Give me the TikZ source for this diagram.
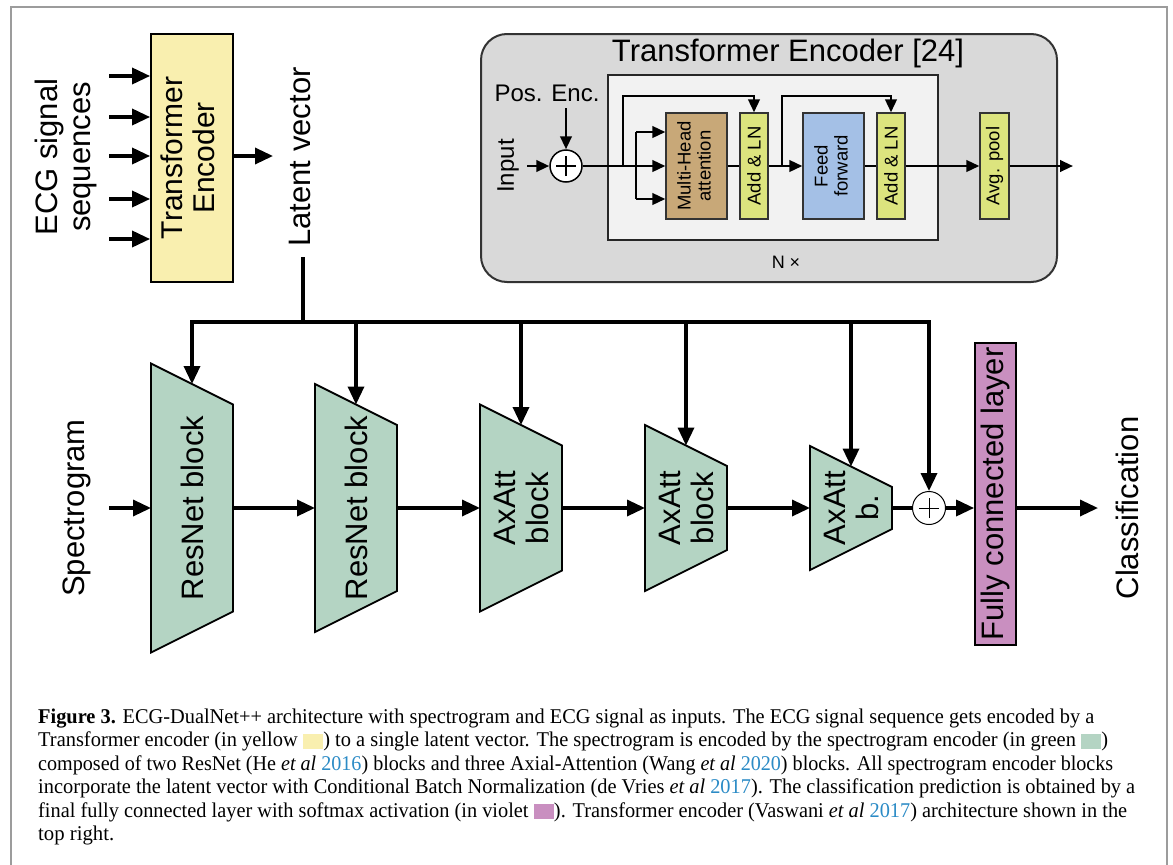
\documentclass[tikz,border=0pt]{standalone}
\usepackage{fontspec}
\setmainfont{Liberation Serif}
\newfontfamily\diag{Liberation Sans}
\usepackage{graphicx}
\usetikzlibrary{arrows.meta}

\definecolor{frameGray}{HTML}{9C9C9C}
\definecolor{teYellow}{HTML}{F9EFAF}
\definecolor{encGreen}{HTML}{B4D4C3}
\definecolor{fcViolet}{HTML}{C98FC0}
\definecolor{outerGray}{HTML}{D9D9D9}
\definecolor{innerGray}{HTML}{F2F2F2}
\definecolor{mhaTan}{HTML}{C8A878}
\definecolor{lnGreen}{HTML}{DCE47E}
\definecolor{ffBlue}{HTML}{A4C0E6}
\definecolor{citeBlue}{HTML}{2B8BC6}

\newcommand\fsz[2]{\fontsize{#1pt}{#2pt}\selectfont}
\newcommand\swatch[1]{\textcolor{#1}{\rule[-2pt]{21pt}{15pt}}}
\newcommand\cy[1]{\textcolor{citeBlue}{#1}}

\tikzset{
  bigtxt/.style={font=\diag\fsz{31}{33}},
  mainline/.style={line width=3.4pt},
  mainarr/.style={line width=3.4pt, -{Triangle[length=18pt,width=16pt]}},
  smline/.style={line width=2.5pt},
  smarr/.style={line width=2.5pt, -{Triangle[length=13pt,width=11.5pt]}},
  trapsty/.style={draw=black, line width=1.8pt, fill=encGreen, line join=miter},
  tbox/.style={draw=black!80, line width=1.3pt, minimum height=106pt, inner sep=0},
  capline/.style={anchor=base west, inner sep=0, font=\fsz{21}{23.5}},
}

\newcommand\trapblk[5]{%
  \draw[trapsty] (#2,508-#3) -- (#2+82,508-#4) -- (#2+82,508+#4) -- (#2,508+#3) -- cycle;
  \coordinate (#1-w) at (#2,508);
  \coordinate (#1-e) at (#2+82,508);
  \coordinate (#1-n) at (#2+41,508-#3/2-#4/2);
  \node[bigtxt, rotate=90, align=center] (#1) at (#2+41,508) {#5};
}

\begin{document}
\begin{tikzpicture}[x=1pt, y=-1pt]
\useasboundingbox (0,0) rectangle (1173,865);
\fill[white] (0,0) rectangle (1173,865);
\draw[frameGray, line width=2pt] (11,880) -- (11,7) -- (1167,7) -- (1167,880);

% ---------- ECG branch ----------
\node[draw, line width=1.8pt, fill=teYellow, minimum width=82pt, minimum height=248pt, inner sep=0] (te) at (192,158)
  {\rotatebox{90}{\diag\fsz{30}{32}\begin{tabular}{@{}c@{}}Transformer\\Encoder\end{tabular}}};
\node[bigtxt, rotate=90, align=center] (ecg) at (66,157) {ECG signal\\sequences};
\foreach \yy [count=\i] in {76,117,156,199,239} {
  \coordinate (ecg\i) at (109,\yy);
  \draw[mainarr] (ecg\i) -- (ecg\i -| te.west);
}
\coordinate (lvin) at (273,156);
\draw[mainarr] (te.east |- lvin) -- (lvin);
\node[bigtxt, rotate=90] (latent) at (300,157) {Latent vector};
\coordinate (latbot) at (303,257);
\coordinate (bj) at (303,322);
\coordinate (busL) at (192,322);
\coordinate (busR) at (929,322);
\draw[mainline] (latbot) -- (bj);

% ---------- spectrogram encoder ----------
\trapblk{t1}{151}{144.5}{103.5}{ResNet block}
\trapblk{t2}{315}{124}{83}{ResNet block}
\trapblk{t3}{480}{103.5}{62.5}{AxAtt\\block}
\trapblk{t4}{645}{83}{42}{AxAtt\\block}
\trapblk{t5}{810}{62}{21}{AxAtt\\b.}

\node[circle, draw, line width=1pt, fill=white, minimum size=33pt, inner sep=0] (plus2) at (929,508) {};
\draw[line width=0.9pt] ([xshift=-10pt]plus2.center) -- ([xshift=10pt]plus2.center)
  ([yshift=-10pt]plus2.center) -- ([yshift=10pt]plus2.center);

\node[draw, line width=1.8pt, fill=fcViolet, minimum width=41pt, minimum height=302pt, inner sep=0] (fc) at (995.5,494)
  {\rotatebox{90}{\diag\fsz{31}{33}Fully connected layer}};

\node[bigtxt, rotate=90] (spec) at (77,508) {Spectrogram};
\node[bigtxt, rotate=90] (cls) at (1127,508) {Classification};

\draw[mainarr] (bj) -- (busL) -- (t1-n);
\draw[mainarr] (bj) -- (busR) -- (plus2.north);
\foreach \b in {t2,t3,t4,t5} {
  \draw[mainarr] (\b-n |- bj) -- (\b-n);
}
\coordinate (specin) at (109,508);
\coordinate (clsin) at (1098,508);
\draw[mainarr] (specin) -- (t1-w);
\draw[mainarr] (t1-e) -- (t2-w);
\draw[mainarr] (t2-e) -- (t3-w);
\draw[mainarr] (t3-e) -- (t4-w);
\draw[mainarr] (t4-e) -- (t5-w);
\draw[mainline] (t5-e) -- (plus2.west);
\draw[mainarr] (plus2.east) -- (fc.west |- plus2.east);
\draw[mainarr] (fc.east |- plus2.east) -- (clsin);

% ---------- Transformer encoder detail ----------
\node[draw=black!80, line width=2pt, fill=outerGray, rounded corners=26pt, minimum width=576pt, minimum height=248pt] (tenc) at (769,158) {};
\node[font=\diag\fsz{31}{33}] (tetitle) at (788,53) {Transformer Encoder [24]};
\node[draw=black!85, line width=1.6pt, fill=innerGray, minimum width=330pt, minimum height=165pt, inner sep=0] (inner) at (773,157.5) {};
\node[font=\diag\fsz{24}{26}] (posenc) at (547,93) {Pos. Enc.};
\node[font=\diag\fsz{24}{26}, rotate=90] (input) at (508,166) {Input};
\node[circle, draw, line width=1.5pt, fill=white, minimum size=32pt, inner sep=0] (plus1) at (566,166) {};
\draw[line width=1.2pt] ([xshift=-10pt]plus1.center) -- ([xshift=10pt]plus1.center)
  ([yshift=-10pt]plus1.center) -- ([yshift=10pt]plus1.center);

\node[tbox, fill=mhaTan, minimum width=61pt] (mha) at (696.5,166)
  {\rotatebox{90}{\diag\fsz{18.5}{20}\begin{tabular}{@{}c@{}}Multi-Head\\attention\end{tabular}}};
\node[tbox, fill=lnGreen, minimum width=28pt] (aln1) at (754,166)
  {\rotatebox{90}{\diag\fsz{18.5}{20}Add \& LN}};
\node[tbox, fill=ffBlue, minimum width=61pt] (ff) at (833.5,166)
  {\rotatebox{90}{\diag\fsz{18.5}{20}\begin{tabular}{@{}c@{}}Feed\\forward\end{tabular}}};
\node[tbox, fill=lnGreen, minimum width=28pt] (aln2) at (891,166)
  {\rotatebox{90}{\diag\fsz{18.5}{20}Add \& LN}};
\node[tbox, fill=lnGreen, minimum width=29pt] (avg) at (994.5,166)
  {\rotatebox{90}{\diag\fsz{18.5}{20}Avg. pool}};
\node[font=\diag\fsz{18}{20}] (ntimes) at (786,262) {N ×};

\coordinate (inL) at (527,166);
\draw[smarr] (inL) -- (plus1.west);
\coordinate (peB) at (566,108);
\draw[smarr] (peB) -- (plus1.north);
\draw[smarr] (plus1.east) -- (mha.west);
\coordinate (br1) at (623,166);
\coordinate (br1t) at (623,96);
\draw[smarr] (br1) -- (br1t) -- (br1t -| aln1.north) -- (aln1.north);
\coordinate (br2t) at (636,132);
\coordinate (br2b) at (636,199);
\draw[smline] (br2t) -- (br2b);
\draw[smarr] (br2t) -- (br2t -| mha.west);
\draw[smarr] (br2b) -- (br2b -| mha.west);
\draw[smline] (mha.east) -- (aln1.west);
\draw[smarr] (aln1.east) -- (ff.west);
\coordinate (br3) at (782,166);
\coordinate (br3t) at (782,96);
\draw[smarr] (br3) -- (br3t) -- (br3t -| aln2.north) -- (aln2.north);
\draw[smline] (ff.east) -- (aln2.west);
\draw[smarr] (aln2.east) -- (avg.west);
\coordinate (teout) at (1073,166);
\draw[smarr] (avg.east) -- (teout);

% ---------- caption ----------
\node[capline] (cap1) at (38,723) {\resizebox{1056pt}{\height}{\textbf{Figure 3.} ECG-DualNet++ architecture with spectrogram and ECG signal as inputs. The ECG signal sequence gets encoded by a}};
\node[capline] (cap2) at (38,746.5) {\resizebox{1070pt}{\height}{Transformer encoder (in yellow \swatch{teYellow}) to a single latent vector. The spectrogram is encoded by the spectrogram encoder (in green \swatch{encGreen})}};
\node[capline] (cap3) at (38,770) {\resizebox{1075pt}{\height}{composed of two ResNet (He \textit{et al} \cy{2016}) blocks and three Axial-Attention (Wang \textit{et al} \cy{2020}) blocks. All spectrogram encoder blocks}};
\node[capline] (cap4) at (38,793.5) {\resizebox{1097pt}{\height}{incorporate the latent vector with Conditional Batch Normalization (de Vries \textit{et al} \cy{2017}). The classification prediction is obtained by a}};
\node[capline] (cap5) at (38,817) {\resizebox{1089pt}{\height}{final fully connected layer with softmax activation (in violet \swatch{fcViolet}). Transformer encoder (Vaswani \textit{et al} \cy{2017}) architecture shown in the}};
\node[capline] (cap6) at (38,840.5) {\resizebox{76pt}{\height}{top right.}};
\end{tikzpicture}
\end{document}
